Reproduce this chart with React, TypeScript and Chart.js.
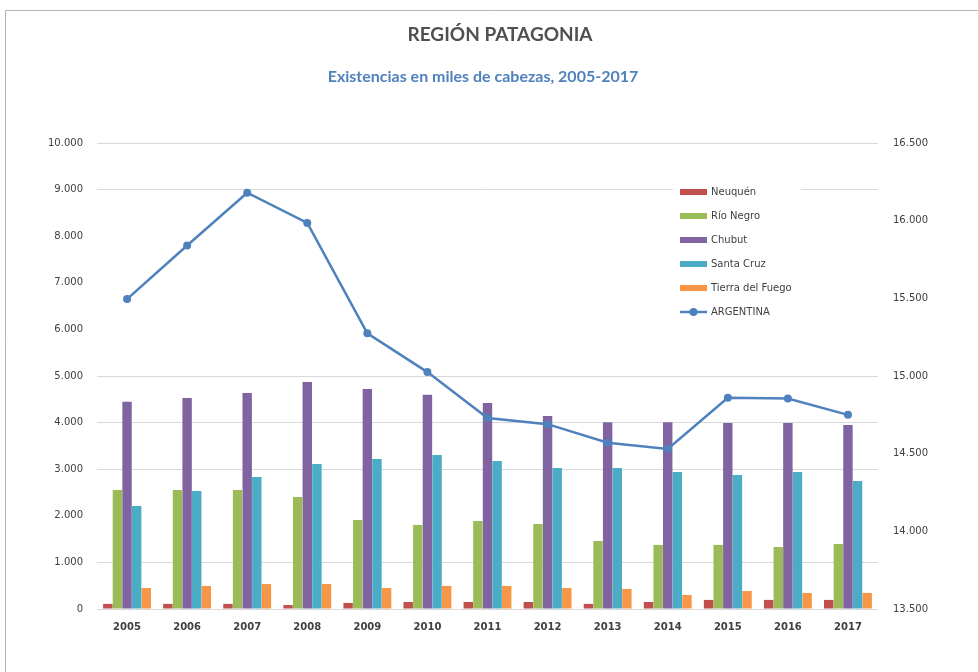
import React, { useEffect, useRef } from "react";
import { Chart, registerables } from "chart.js";

Chart.register(...registerables);

const years = ["2005","2006","2007","2008","2009","2010","2011","2012","2013","2014","2015","2016","2017"];
const neuquen = [110, 110, 110, 85, 130, 150, 150, 150, 110, 150, 195, 195, 195];
const rioNegro = [2555, 2555, 2555, 2405, 1910, 1805, 1890, 1825, 1460, 1375, 1375, 1330, 1395];
const chubut = [4445, 4530, 4635, 4870, 4720, 4595, 4420, 4140, 4010, 4010, 3990, 3990, 3950];
const santaCruz = [2210, 2530, 2835, 3110, 3220, 3305, 3175, 3025, 3025, 2940, 2875, 2940, 2745];
const tierraDelFuego = [450, 495, 535, 535, 450, 495, 495, 450, 430, 300, 385, 345, 345];
const argentina = [15495, 15840, 16180, 15985, 15275, 15025, 14730, 14690, 14570, 14530, 14860, 14855, 14750];

const leftTicks = { min: 0, max: 10000, step: 1000 };
const rightTicks = { min: 13500, max: 16500, step: 500 };
const hiddenGrid = [2000, 6000, 7000, 8000];

const title = "REGIÓN PATAGONIA";
const subtitle = "Existencias en miles de cabezas, 2005-2017";

const fmt = (v: number) => String(v).replace(/\B(?=(\d{3})+(?!\d))/g, ".");

const decorPlugin = {
  id: "decor",
  beforeDraw(chart: any) {
    const ctx = chart.ctx;
    ctx.save();
    ctx.fillStyle = "#ffffff";
    ctx.fillRect(0, 0, chart.width, chart.height);
    ctx.strokeStyle = "#b4b4b4";
    ctx.lineWidth = 1;
    ctx.beginPath();
    ctx.moveTo(5.5, chart.height);
    ctx.lineTo(5.5, 10.5);
    ctx.lineTo(chart.width, 10.5);
    ctx.stroke();
    ctx.textAlign = "center";
    ctx.textBaseline = "middle";
    ctx.fillStyle = "#505050";
    ctx.font = "bold 19px Lato";
    ctx.fillText(title, 500, 35);
    ctx.fillStyle = "#4F81BD";
    ctx.font = "bold 16px Lato";
    ctx.fillText(subtitle, 483, 77);
    ctx.restore();
  },
  afterDatasetsDraw(chart: any) {
    const ctx = chart.ctx;
    const area = chart.chartArea;
    const x0 = area.left + 583;
    const y0 = area.top + 49;
    const rowH = 24;
    ctx.save();
    ctx.fillStyle = "#ffffff";
    ctx.fillRect(x0 - 7, y0 - 12, 128, rowH * 6);
    ctx.font = "10px 'DejaVu Sans'";
    ctx.textBaseline = "middle";
    ctx.textAlign = "left";
    chart.data.datasets.forEach((ds: any, i: number) => {
      const y = y0 + rowH * i;
      if (ds.type === "line") {
        ctx.strokeStyle = ds.borderColor;
        ctx.lineWidth = 2.5;
        ctx.beginPath();
        ctx.moveTo(x0, y);
        ctx.lineTo(x0 + 27, y);
        ctx.stroke();
        ctx.fillStyle = ds.borderColor;
        ctx.beginPath();
        ctx.arc(x0 + 13.5, y, 4, 0, Math.PI * 2);
        ctx.fill();
      } else {
        ctx.fillStyle = ds.backgroundColor;
        ctx.fillRect(x0, y - 3, 27, 6);
      }
      ctx.fillStyle = "#404040";
      ctx.fillText(ds.label, x0 + 31, y);
    });
    ctx.restore();
  },
};

export default function App() {
  const ref = useRef<HTMLCanvasElement>(null);
  useEffect(() => {
    if (!ref.current) return;
    const barDs = (label: string, data: number[], color: string) => ({
      type: "bar" as const,
      label,
      data,
      backgroundColor: color,
      borderWidth: 0,
      yAxisID: "y",
      order: 1,
      categoryPercentage: 0.8,
      barPercentage: 0.98,
    });
    const chart = new Chart(ref.current, {
      type: "bar",
      data: {
        labels: years,
        datasets: [
          barDs("Neuquén", neuquen, "#C0504D"),
          barDs("Río Negro", rioNegro, "#9BBB59"),
          barDs("Chubut", chubut, "#8064A2"),
          barDs("Santa Cruz", santaCruz, "#4BACC6"),
          barDs("Tierra del Fuego", tierraDelFuego, "#F79646"),
          {
            type: "line" as const,
            label: "ARGENTINA",
            data: argentina,
            borderColor: "#4F81BD",
            backgroundColor: "#4F81BD",
            borderWidth: 2.5,
            pointRadius: 4,
            pointBackgroundColor: "#4F81BD",
            pointBorderWidth: 0,
            tension: 0,
            yAxisID: "y1",
            order: 0,
          } as any,
        ],
      },
      options: {
        responsive: false,
        animation: false,
        layout: { padding: { top: 143, left: 0, right: 0, bottom: 0 } },
        plugins: {
          legend: { display: false },
          title: { display: false },
          tooltip: { enabled: false },
        },
        scales: {
          x: {
            grid: { display: false, drawTicks: false },
            border: { display: false },
            ticks: {
              color: "#404040",
              font: { family: "DejaVu Sans", size: 10, weight: "bold" },
              padding: 12,
              maxRotation: 0,
            },
            afterFit: (s: any) => { s.height = 63; },
          },
          y: {
            position: "left",
            min: leftTicks.min,
            max: leftTicks.max,
            grid: {
              drawTicks: false,
              color: (c: any) => (hiddenGrid.includes(c.tick?.value) ? "rgba(0,0,0,0)" : "#d9d9d9"),
              lineWidth: 1,
            },
            border: { display: false },
            ticks: {
              stepSize: leftTicks.step,
              color: "#404040",
              font: { family: "DejaVu Sans", size: 10 },
              padding: 14,
              callback: (v: any) => fmt(Number(v)),
            },
            afterFit: (s: any) => { s.width = 97; },
          },
          y1: {
            position: "right",
            min: rightTicks.min,
            max: rightTicks.max,
            grid: { display: false, drawTicks: false },
            border: { display: false },
            ticks: {
              stepSize: rightTicks.step,
              color: "#404040",
              font: { family: "DejaVu Sans", size: 10 },
              padding: 15,
              callback: (v: any) => fmt(Number(v)),
            },
            afterFit: (s: any) => { s.width = 100; },
          },
        },
      },
      plugins: [decorPlugin],
    });
    return () => chart.destroy();
  }, []);
  return (
    <div style={{ position: "fixed", left: 0, top: 0, width: 978, height: 672, background: "#fff" }}>
      <canvas ref={ref} width={978} height={672} style={{ width: 978, height: 672, display: "block" }} />
    </div>
  );
}
